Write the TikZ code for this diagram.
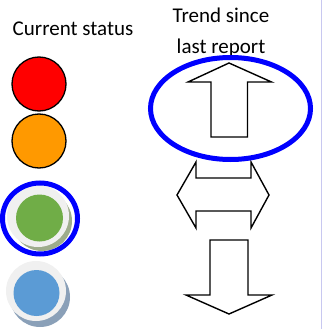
\documentclass[tikz,border=0pt]{standalone}
\usepackage{fontspec}
\setmainfont{Carlito}
\begin{document}
\begin{tikzpicture}[x=1pt,y=-1pt,
  lbl/.style={font=\fontsize{21}{30}\selectfont, align=center, inner sep=0pt},
  lamp/.style={circle, draw=black, line width=1.3pt, minimum size=54pt, inner sep=0pt},
  bigarrow/.style={draw=black, line width=1.4pt, fill=white, line join=miter},
  hilite/.style={draw=blue, line width=5pt},
  rimdisc/.style={circle, fill=black!6, minimum size=60pt, inner sep=0pt},
  ]
\useasboundingbox (0,0) rectangle (322,329);
\draw[color={rgb,255:red,200;green,200;blue,240}, line width=1pt] (321.5,0) -- (321.5,329);
% texts
\node[lbl, anchor=base] (cur) at (73,36) {Current status};
\node[lbl, anchor=base] (tr1) at (221,23) {Trend since};
\node[lbl, anchor=base] (tr2) at (221,53) {last report};
% lamps
\node[lamp, fill={rgb,255:red,255;green,0;blue,0}] (red) at (39,84) {};
\node[lamp, fill={rgb,255:red,255;green,153;blue,0}] (orange) at (39,141) {};
% green button
\node[rimdisc, fill={rgb,255:red,158;green,172;blue,140}] (gshadow) at (42,221) {};
\node[rimdisc, minimum size=62pt] (grim) at (38,216) {};
\node[circle, inner sep=0pt, minimum size=47pt, fill={rgb,255:red,112;green,173;blue,71}] (green) at (39.5,218) {};
\draw[hilite] (40,218.5) ellipse [x radius=37.5, y radius=35.5];
% blue button
\node[rimdisc, fill={rgb,255:red,138;green,160;blue,184}] (bshadow) at (40,297) {};
\node[rimdisc, minimum size=60pt] (brim) at (36,291) {};
\node[circle, inner sep=0pt, minimum size=46pt, fill={rgb,255:red,91;green,155;blue,213}] (blue) at (36.5,293) {};
% arrows
\draw[bigarrow] (229,63) -- (271.5,82) -- (247.5,82) -- (247.5,137) -- (211,137) -- (211,82) -- (188,82) -- cycle;
\draw[bigarrow] (177,195) -- (196,162) -- (196,178) -- (251,178) -- (251,162) -- (269,195) -- (251,228) -- (251,211) -- (196,211) -- (196,228) -- cycle;
\draw[bigarrow] (229,314) -- (272,295) -- (248,295) -- (248,240) -- (210,240) -- (210,295) -- (186,295) -- cycle;
\draw[hilite] (230.5,108.5) ellipse [x radius=80, y radius=51];
\end{tikzpicture}
\end{document}
